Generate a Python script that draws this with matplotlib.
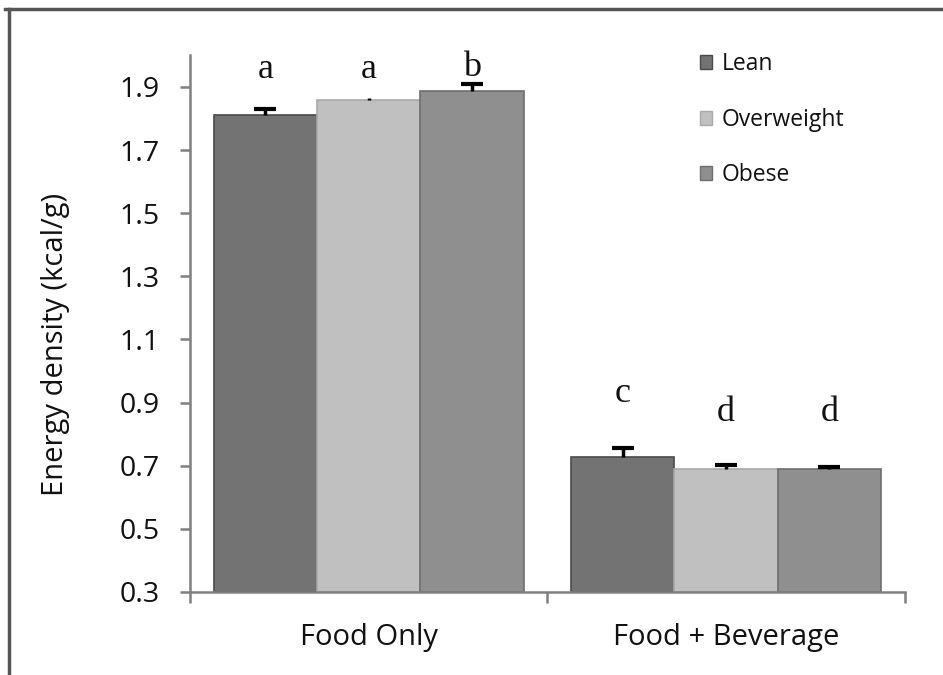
import matplotlib
matplotlib.use("Agg")
import matplotlib.pyplot as plt
from matplotlib.patches import Rectangle
from matplotlib.lines import Line2D
import numpy as np

categories = ["Food Only", "Food + Beverage"]
groups = ["Lean", "Overweight", "Obese"]
values = {
    "Lean": [1.811, 0.728],
    "Overweight": [1.857, 0.690],
    "Obese": [1.888, 0.690],
}
errors = {
    "Lean": [0.019, 0.029],
    "Overweight": [0.008, 0.011],
    "Obese": [0.022, 0.005],
}
show_cap = {
    "Lean": [True, True],
    "Overweight": [False, True],
    "Obese": [True, True],
}
letters = {
    "Lean": ["a", "c"],
    "Overweight": ["a", "d"],
    "Obese": ["b", "d"],
}
letter_y = {
    "Lean": [1.955, 0.93],
    "Overweight": [1.955, 0.87],
    "Obese": [1.96, 0.87],
}
yticks = [0.3, 0.5, 0.7, 0.9, 1.1, 1.3, 1.5, 1.7, 1.9]
colors = {"Lean": "#737373", "Overweight": "#c0c0c0", "Obese": "#8f8f8f"}
edges = {"Lean": "#4a4a4a", "Overweight": "#a8a8a8", "Obese": "#6e6e6e"}

FONT = "Open Sans"

fig = plt.figure(figsize=(9.43, 6.75), dpi=100)
ax = fig.add_axes([0.2015, 0.123, 0.758, 0.795])

bw = 0.289
x = np.arange(len(categories))
for i, g in enumerate(groups):
    pos = x + (i - 1) * bw
    vals = np.array(values[g])
    errs = np.array(errors[g])
    ax.bar(pos, vals - 0.3, bottom=0.3, width=bw, color=colors[g],
           edgecolor=edges[g], linewidth=1.2, zorder=2)
    ax.vlines(pos, vals, vals + errs, color="black", linewidth=2.5, zorder=3)
    caps = np.array(show_cap[g])
    ax.plot(pos[caps], (vals + errs)[caps], linestyle="none", marker="_",
            markersize=16, markeredgewidth=3, color="black", zorder=4)
    for j in range(len(categories)):
        ax.text(pos[j], letter_y[g][j], letters[g][j], ha="center", va="center",
                fontsize=26, family="Liberation Serif", color="#111111")

ax.set_xlim(-0.5, 1.5)
ax.set_ylim(0.3, 2.0)
ax.set_yticks(yticks)
ax.set_yticklabels([f"{t:.1f}" for t in yticks], fontsize=20.5, family=FONT, color="#111111")
ax.set_xticks([-0.5, 0.5, 1.5])
ax.set_xticklabels([])
ax.set_xticks(x, minor=True)
ax.set_xticklabels(categories, minor=True, fontsize=21, family=FONT, color="#111111")
ax.tick_params(axis="x", which="minor", length=0, pad=22)
ax.tick_params(axis="x", which="major", length=8, color="#808080", width=1.8, direction="out")
ax.tick_params(axis="y", length=7, color="#808080", width=1.8, direction="out", pad=15)
for s in ["top", "right"]:
    ax.spines[s].set_visible(False)
for s in ["left", "bottom"]:
    ax.spines[s].set_color("#808080")
    ax.spines[s].set_linewidth(1.8)
ax.set_ylabel("Energy density (kcal/g)", fontsize=21, family=FONT, color="#111111")
ax.yaxis.set_label_coords(-0.168, 0.462)

handles = [Rectangle((0, 0), 1, 1, facecolor=colors[g], edgecolor=edges[g], linewidth=1) for g in groups]
leg = ax.legend(handles, groups, loc="upper left", bbox_to_anchor=(0.713, 1.006), frameon=False,
                prop={"family": FONT, "size": 16.5}, handlelength=0.55, handleheight=0.55,
                labelspacing=1.38, handletextpad=0.4, borderpad=0, borderaxespad=0)
for t in leg.get_texts():
    t.set_color("#111111")

# figure frame (top and left border)
fig.add_artist(Line2D([0.005, 1.0], [0.986, 0.986], color="#555555", linewidth=2.5, transform=fig.transFigure))
fig.add_artist(Line2D([0.0095, 0.0095], [0.0, 0.986], color="#555555", linewidth=2.5, transform=fig.transFigure))

fig.savefig("out.png", dpi=100)
